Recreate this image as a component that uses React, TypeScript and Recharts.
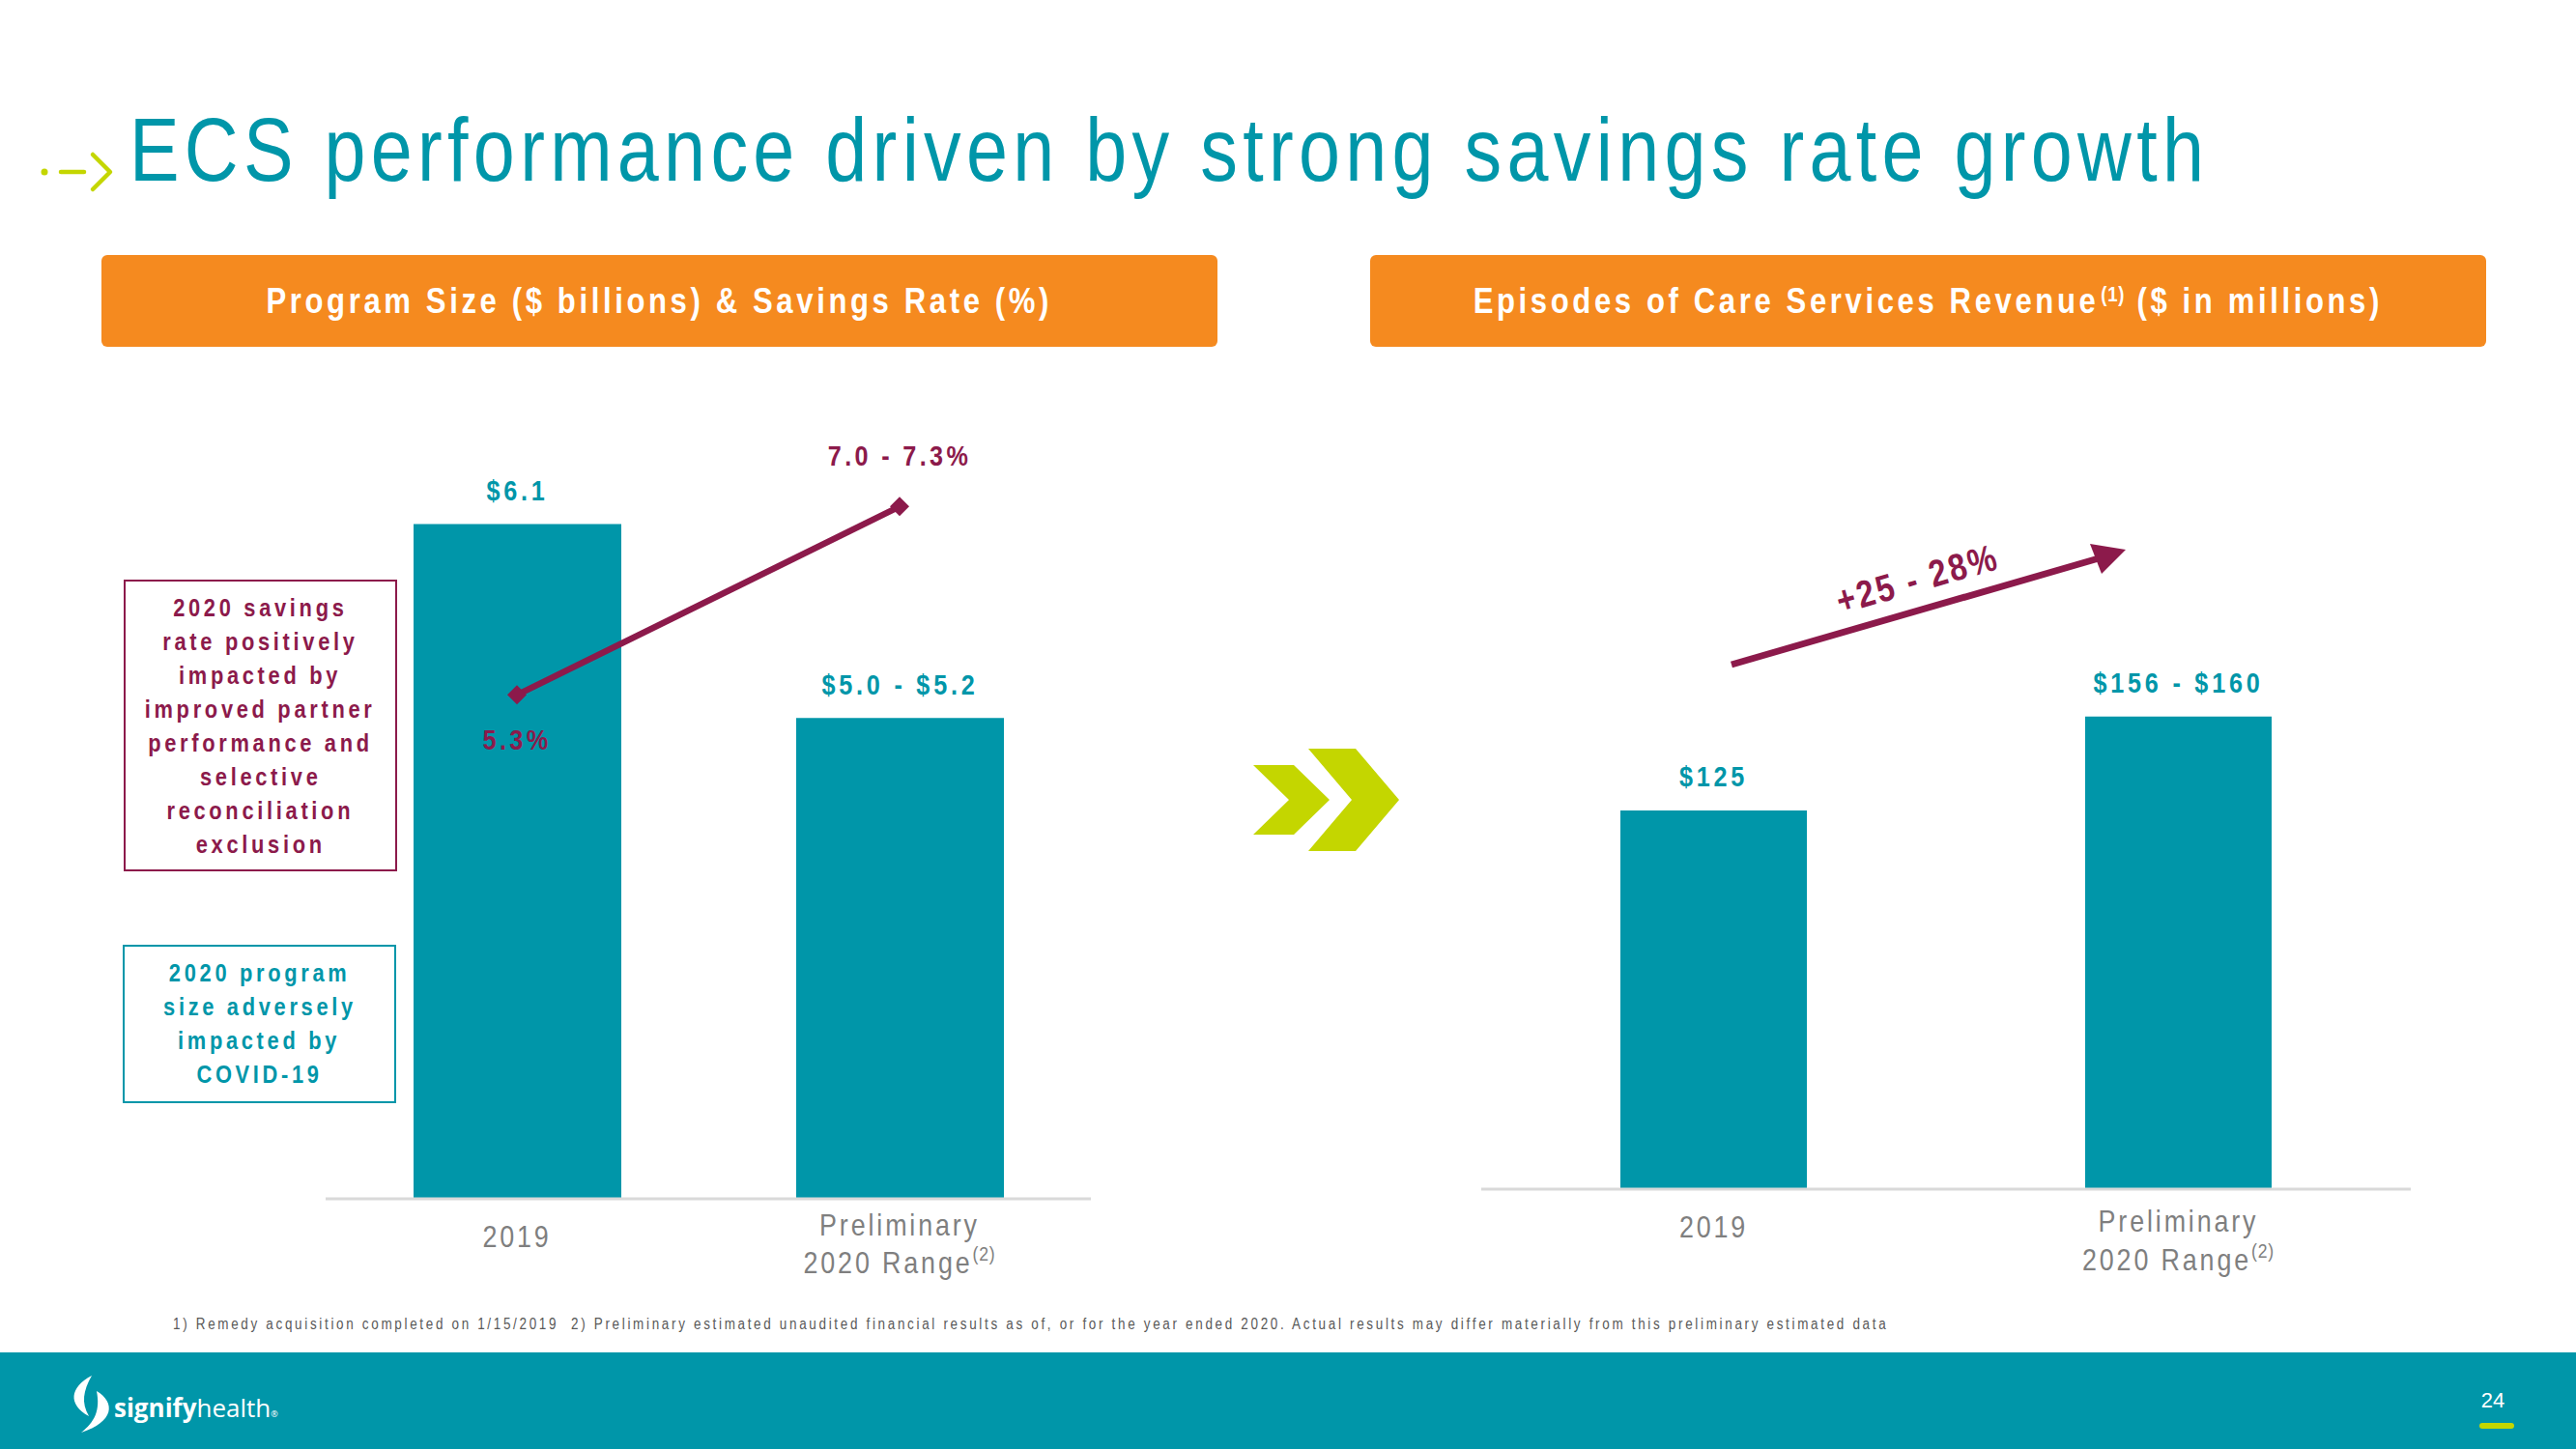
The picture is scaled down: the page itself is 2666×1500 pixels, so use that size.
import React from 'react';
import { ComposedChart, BarChart, Bar, Line, XAxis, YAxis, LabelList } from 'recharts';

// ---------- data ----------
const programCategoryLines = [['2019'], ['Preliminary', '2020 Range']];
const programCategoryNotes = ['', '(2)'];
const programSize = [6.1, 5.1];
const programSizeLabels = ['$6.1', '$5.0 - $5.2'];
const savingsRate = [5.3, 7.15];
const savingsRateLabels = ['5.3%', '7.0 - 7.3%'];

const revenueCategoryLines = [['2019'], ['Preliminary', '2020 Range']];
const revenueCategoryNotes = ['', '(2)'];
const revenue = [125, 156];
const revenueLabels = ['$125', '$156 - $160'];
const growthLabel = '+25 - 28%';

const savingsNoteLines = ['2020 savings', 'rate positively', 'impacted by', 'improved partner', 'performance and', 'selective', 'reconciliation', 'exclusion'];
const covidNoteLines = ['2020 program', 'size adversely', 'impacted by', 'COVID-19'];

const leftData = programCategoryLines.map((l, i) => ({
  category: l.join(' '),
  size: programSize[i],
  rate: savingsRate[i],
}));
const rightData = revenueCategoryLines.map((l, i) => ({
  category: l.join(' '),
  revenue: revenue[i],
}));

// ---------- styles ----------
const TEAL = '#0096A9';
const MAROON = '#8C1A4B';
const ORANGE = '#F58A1F';
const LIME = '#C4D600';
const GRAY = '#7F7F7F';
const FONT = "'Liberation Sans', Arial, sans-serif";
const SX = 0.84; // horizontal condensing to mimic a narrow face

const NText = ({ x, y, anchor = 'middle', children, ...rest }: any) => (
  <g transform={`translate(${x},${y}) scale(${SX},1)`}>
    <text x={0} y={0} textAnchor={anchor} fontFamily={FONT} {...rest}>{children}</text>
  </g>
);

const makeTick = (linesArr: string[][], notesArr: string[], baselines2: number[]) => (props: any) => {
  const { x, y, payload } = props;
  const idx = payload.index;
  const lines = linesArr[idx];
  const note = notesArr[idx];
  const baselines = lines.length === 1 ? [50] : baselines2;
  return (
    <g>
      {lines.map((t, i) => (
        <NText key={i} x={x} y={y + baselines[i]} fill={GRAY} fontSize={32} letterSpacing={3.4}>
          {t}
          {i === lines.length - 1 && note ? (
            <tspan fontSize={21} dy={-13} letterSpacing={1}>{note}</tspan>
          ) : null}
        </NText>
      ))}
    </g>
  );
};

const barLabel = (labels: string[], gap: number) => (props: any) => {
  const { x, y, width, index } = props;
  return (
    <NText x={x + width / 2} y={y - gap} fill={TEAL} fontWeight={700} fontSize={30} letterSpacing={4.5}>
      {labels[index]}
    </NText>
  );
};

const rateLabel = (props: any) => {
  const { x, y, index } = props;
  const dy = index === 0 ? 57 : -42;
  return (
    <NText x={x} y={y + dy} fill={MAROON} fontWeight={700} fontSize={30} letterSpacing={4}>
      {savingsRateLabels[index]}
    </NText>
  );
};

const Diamond = (props: any) => {
  const { cx, cy } = props;
  const r = 10;
  return <path d={`M${cx},${cy - r} L${cx + r},${cy} L${cx},${cy + r} L${cx - r},${cy} Z`} fill={MAROON} />;
};

const Narrow = ({ children, origin = 'center' }: any) => (
  <span style={{ display: 'inline-block', transform: `scaleX(${SX})`, transformOrigin: origin, whiteSpace: 'nowrap' }}>{children}</span>
);

const NoteBox = ({ lines, color, left, top, width, height }: any) => (
  <div style={{
    position: 'absolute', left, top, width, height, boxSizing: 'border-box',
    border: `2px solid ${color}`, paddingTop: 10,
    color, fontFamily: FONT, fontWeight: 700, fontSize: 26, lineHeight: '35px', letterSpacing: 4.4,
  }}>
    {lines.map((l: string, i: number) => (
      <div key={i} style={{ display: 'flex', justifyContent: 'center', height: 35 }}><Narrow>{l}</Narrow></div>
    ))}
  </div>
);

const headerStyle: React.CSSProperties = {
  position: 'absolute', top: 264, width: 1155, height: 95, background: ORANGE, borderRadius: 6,
  color: '#fff', fontWeight: 700, fontSize: 37, letterSpacing: 4.3, display: 'flex', alignItems: 'center',
  justifyContent: 'center', fontFamily: FONT,
};

export default function App() {
  return (
    <div style={{ position: 'absolute', left: 0, top: 0, width: 2666, height: 1500, background: '#fff', overflow: 'hidden', fontFamily: FONT }}>
      {/* title */}
      <svg style={{ position: 'absolute', left: 0, top: 0 }} width={200} height={250}>
        <circle cx={46} cy={178} r={3.5} fill={LIME} />
        <line x1={63} y1={178} x2={87} y2={178} stroke={LIME} strokeWidth={4.5} strokeLinecap="round" />
        <polyline points="96,160 114,178 96,196" fill="none" stroke={LIME} strokeWidth={4.5} strokeLinecap="round" strokeLinejoin="round" />
      </svg>
      <div style={{ position: 'absolute', left: 134, top: 100, fontSize: 92, lineHeight: '110px', color: TEAL, letterSpacing: 6.3, whiteSpace: 'nowrap' }}>
        <Narrow origin="left">ECS performance driven by strong savings rate growth</Narrow>
      </div>

      {/* headers */}
      <div style={{ ...headerStyle, left: 105 }}>
        <Narrow>Program Size ($ billions) &amp; Savings Rate (%)</Narrow>
      </div>
      <div style={{ ...headerStyle, left: 1418 }}>
        <Narrow>
          Episodes of Care Services Revenue<span style={{ fontSize: 22, position: 'relative', top: -12, letterSpacing: 1, marginLeft: 2 }}>(1)</span> ($ in millions)
        </Narrow>
      </div>

      {/* left chart */}
      <div style={{ position: 'absolute', left: 337, top: 420 }}>
        <ComposedChart width={792} height={921} data={leftData} margin={{ top: 0, right: 0, bottom: 0, left: 0 }}>
          <XAxis dataKey="category" height={100} tickLine={false} tickSize={0} tickMargin={0}
            axisLine={{ stroke: '#D9D9D9', strokeWidth: 3 }} tick={makeTick(programCategoryLines, programCategoryNotes, [38, 77])} interval={0} />
          <YAxis yAxisId="size" hide domain={[2.62, 6.71]} allowDataOverflow />
          <YAxis yAxisId="rate" orientation="right" hide domain={[0.35, 8.14]} allowDataOverflow />
          <Bar yAxisId="size" dataKey="size" fill={TEAL} barSize={215} isAnimationActive={false}>
            <LabelList dataKey="size" content={barLabel(programSizeLabels, 24)} />
          </Bar>
          <Line yAxisId="rate" dataKey="rate" stroke={MAROON} strokeWidth={6.5} dot={<Diamond />} activeDot={false} isAnimationActive={false}>
            <LabelList dataKey="rate" content={rateLabel} />
          </Line>
        </ComposedChart>
      </div>

      <NoteBox lines={savingsNoteLines} color={MAROON} left={128} top={600} width={283} height={302} />
      <NoteBox lines={covidNoteLines} color={TEAL} left={127} top={978} width={283} height={164} />

      {/* chevrons and growth arrow */}
      <svg style={{ position: 'absolute', left: 0, top: 0, pointerEvents: 'none' }} width={2666} height={1500}>
        <polygon points="1297,792 1339,792 1376,828 1339,864 1297,864 1334,828" fill={LIME} />
        <polygon points="1354,775 1403,775 1448,828 1403,881 1354,881 1399,828" fill={LIME} />
        <line x1={1792} y1={688} x2={2172} y2={578} stroke={MAROON} strokeWidth={7} />
        <polygon points="2200,569 2163,563 2175,594" fill={MAROON} />
        <g transform="translate(1988,612) rotate(-16)">
          <g transform={`scale(${SX},1)`}>
            <text x={0} y={0} textAnchor="middle" fill={MAROON} fontFamily={FONT} fontWeight={700} fontSize={39} letterSpacing={3}>{growthLabel}</text>
          </g>
        </g>
      </svg>

      {/* right chart */}
      <div style={{ position: 'absolute', left: 1533, top: 420 }}>
        <BarChart width={962} height={911} data={rightData} margin={{ top: 0, right: 0, bottom: 0, left: 0 }}>
          <XAxis dataKey="category" height={100} tickLine={false} tickSize={0} tickMargin={0}
            axisLine={{ stroke: '#D9D9D9', strokeWidth: 3 }} tick={makeTick(revenueCategoryLines, revenueCategoryNotes, [44, 84])} interval={0} />
          <YAxis hide domain={[0, 258.6]} allowDataOverflow />
          <Bar dataKey="revenue" fill={TEAL} barSize={193} isAnimationActive={false}>
            <LabelList dataKey="revenue" content={barLabel(revenueLabels, 25)} />
          </Bar>
        </BarChart>
      </div>

      {/* footnote */}
      <div style={{ position: 'absolute', left: 179, top: 1362, fontSize: 16, color: '#595959', letterSpacing: 3.2, whiteSpace: 'nowrap' }}>
        <Narrow origin="left">1) Remedy acquisition completed on 1/15/2019&nbsp;&nbsp;2) Preliminary estimated unaudited financial results as of, or for the year ended 2020. Actual results may differ materially from this preliminary estimated data</Narrow>
      </div>

      {/* footer */}
      <div style={{ position: 'absolute', left: 0, top: 1400, width: 2666, height: 100, background: TEAL }} />
      <svg style={{ position: 'absolute', left: 0, top: 1400 }} width={400} height={100}>
        <path d="M95,24 C72,36 70,54 92,66 C84,52 86,40 95,24 Z" fill="#fff" />
        <path d="M100,40 C120,52 118,72 84,83 C98,72 104,60 100,40 Z" fill="#fff" />
        <text x={118} y={67} fill="#fff" fontFamily="'Open Sans', 'Liberation Sans', sans-serif" fontSize={26}>
          <tspan fontWeight={700}>signify</tspan><tspan>health</tspan><tspan fontSize={9}>®</tspan>
        </text>
      </svg>
      <div style={{ position: 'absolute', left: 2560, top: 1437, width: 40, textAlign: 'center', color: '#fff', fontSize: 22, fontFamily: FONT }}>24</div>
      <div style={{ position: 'absolute', left: 2566, top: 1473, width: 36, height: 6, borderRadius: 3, background: LIME }} />
    </div>
  );
}
